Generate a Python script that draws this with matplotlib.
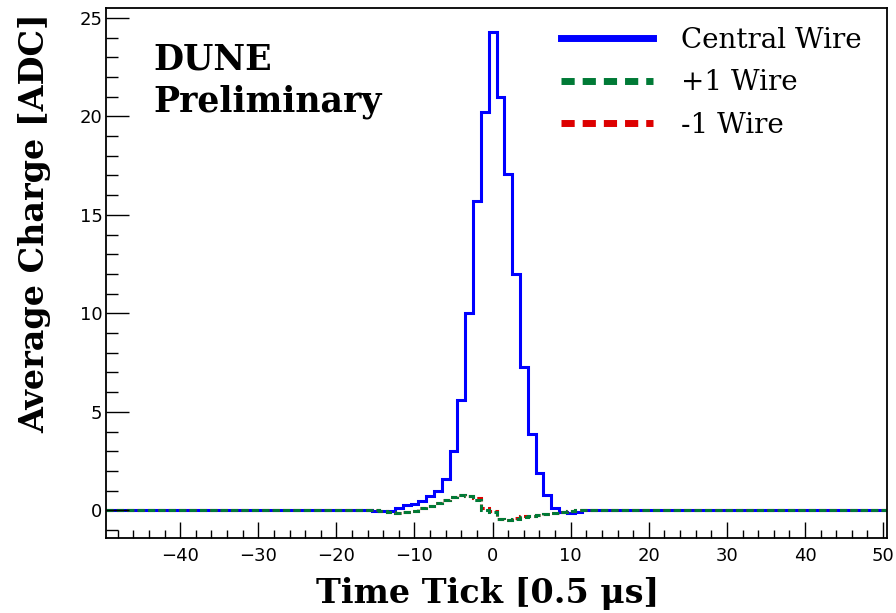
import matplotlib
matplotlib.use('Agg')
import matplotlib.pyplot as plt
from matplotlib.lines import Line2D
import numpy as np

# histogram range: 100 bins of width 1 centred on integer time ticks
X_MIN, X_MAX = -49.5, 50.5
# only bins -15 .. 12 differ from zero
SIGNAL_BINS = list(range(-15, 13))

central_wire = [-0.05, -0.05, -0.05, 0.12, 0.25, 0.35, 0.47, 0.73, 1.0, 1.6,
                3.0, 5.6, 10.0, 15.7, 20.2, 24.3, 21.0, 17.1, 12.0, 7.3,
                3.9, 1.88, 0.76, 0.12, -0.07, -0.12, -0.07, 0.0]
plus_one_wire = [0.0, -0.03, -0.1, -0.12, -0.1, -0.02, 0.1, 0.24, 0.37, 0.55,
                 0.68, 0.8, 0.75, 0.55, 0.03, -0.08, -0.44, -0.5, -0.43, -0.33,
                 -0.27, -0.22, -0.17, -0.13, -0.08, -0.03, 0.0, 0.0]
minus_one_wire = [0.0, -0.03, -0.1, -0.12, -0.1, -0.02, 0.1, 0.24, 0.37, 0.55,
                  0.68, 0.8, 0.75, 0.62, 0.1, -0.04, -0.44, -0.5, -0.4, -0.3,
                  -0.27, -0.22, -0.17, -0.13, -0.08, -0.03, 0.0, 0.0]

LABELS = ['Central Wire', '+1 Wire', '-1 Wire']
COLORS = ['#0000ff', '#007a36', '#dd0000']

X_TICKS = [-40, -30, -20, -10, 0, 10, 20, 30, 40, 50]
Y_TICKS = [0, 5, 10, 15, 20, 25]


def full_hist(values):
    edges = np.arange(X_MIN, X_MAX + 0.5, 1.0)
    centers = (edges[:-1] + edges[1:]) / 2
    h = np.zeros(len(centers))
    for b, v in zip(SIGNAL_BINS, values):
        h[np.argmin(np.abs(centers - b))] = v
    return edges, h


SERIF = 'DejaVu Serif'
SANS = 'DejaVu Sans'

fig = plt.figure(figsize=(8.96, 6.13), dpi=100)
ax = fig.add_axes([106 / 896, 1 - 538 / 613, 781 / 896, 530 / 613])

dash = (0, (2.3, 1.1))
for vals, color, ls in [(central_wire, COLORS[0], '-'),
                        (minus_one_wire, COLORS[2], dash),
                        (plus_one_wire, COLORS[1], dash)]:
    edges, h = full_hist(vals)
    ax.stairs(h, edges, baseline=None, color=color, linewidth=2.2,
              linestyle=ls)

ax.set_xlim(X_MIN, X_MAX)
ax.set_ylim(-1.4, 25.5)
ax.set_xticks(X_TICKS)
ax.set_xticks(np.arange(-48, 51, 2), minor=True)
ax.set_yticks(Y_TICKS)
ax.set_yticks(np.arange(-1, 26, 1), minor=True)
ax.tick_params(axis='both', which='both', direction='in', top=False, right=False,
               width=1.0, colors='black', labelsize=13)
ax.tick_params(axis='x', which='major', length=11.5, pad=6.5)
ax.tick_params(axis='x', which='minor', length=5.8)
ax.tick_params(axis='y', which='major', length=16.5, pad=2.5)
ax.tick_params(axis='y', which='minor', length=8.6)
for lab in ax.get_xticklabels() + ax.get_yticklabels():
    lab.set_family(SANS)
for sp in ax.spines.values():
    sp.set_linewidth(1.3)

handles = [
    Line2D([], [], color=COLORS[0], linewidth=5),
    Line2D([], [], color=COLORS[1], linewidth=5, linestyle=(0, (1.9, 1.15))),
    Line2D([], [], color=COLORS[2], linewidth=5, linestyle=(0, (1.9, 1.15))),
]
ax.legend(handles, LABELS, loc='upper left', bbox_to_anchor=(550 / 896, 1 - 16 / 613),
          bbox_transform=fig.transFigure, frameon=False,
          prop={'family': SERIF, 'size': 20}, handlelength=3.3,
          handletextpad=1.0, labelspacing=0.55, borderaxespad=0)

fig.text(153 / 896, 1 - 42 / 613, 'DUNE\nPreliminary', family=SERIF,
         fontweight='bold', fontsize=25, va='top', ha='left', linespacing=1.3)

fig.text(488 / 896, 1 - 594 / 613, 'Time Tick [0.5 μs]', family=SERIF,
         fontweight='bold', fontsize=24, ha='center', va='center')
fig.text(35 / 896, 1 - 223 / 613, 'Average Charge [ADC]', family=SERIF,
         fontweight='bold', fontsize=24, ha='center', va='center', rotation=90)

fig.savefig('out.png', dpi=100)
